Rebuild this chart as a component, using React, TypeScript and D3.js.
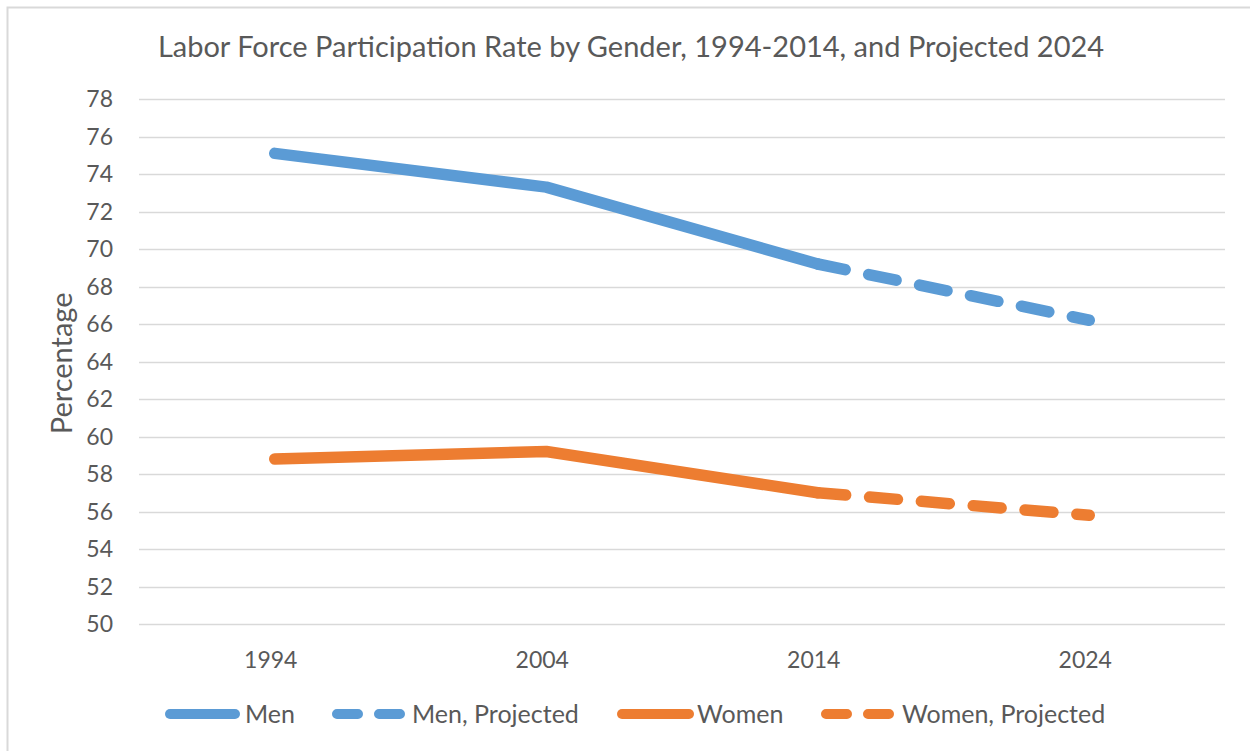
import React, { useRef, useEffect } from "react";
import * as d3 from "d3";

const years = ["1994", "2004", "2014", "2024"];
const men = [75.1, 73.3, 69.2, null];
const menProjected = [null, null, 69.2, 66.2];
const women = [58.8, 59.2, 57.0, null];
const womenProjected = [null, null, 57.0, 55.8];
const yTicks = d3.range(50, 79, 2);

const BLUE = "#5B9BD5";
const ORANGE = "#ED7D31";
const FONT = "Lato, 'Open Sans', sans-serif";

function App() {
    const svgRef = useRef<SVGSVGElement>(null);

    useEffect(() => {
        const width = 1250, height = 751;
        const margin = { top: 99, right: 25, bottom: 127, left: 139 };

        const svg = d3.select(svgRef.current);
        svg.selectAll("*").remove();

        svg.append("rect")
            .attr("x", 7.5).attr("y", 7.5)
            .attr("width", 1250).attr("height", 750)
            .attr("fill", "white")
            .attr("stroke", "#D9D9D9")
            .attr("stroke-width", 2);

        const xScale = d3.scaleBand()
            .domain(years)
            .range([margin.left, width - margin.right]);

        const yScale = d3.scaleLinear()
            .domain([50, 78])
            .range([height - margin.bottom, margin.top]);

        svg.append("text")
            .attr("x", 631).attr("y", 57)
            .attr("text-anchor", "middle")
            .style("font-family", FONT)
            .style("font-size", "29px")
            .style("fill", "#595959")
            .text("Labor Force Participation Rate by Gender, 1994-2014, and Projected 2024");

        // gridlines
        svg.append("g")
            .selectAll("line")
            .data(yTicks)
            .join("line")
            .attr("x1", margin.left)
            .attr("x2", width - margin.right)
            .attr("y1", d => Math.round(yScale(d)) + 0.5)
            .attr("y2", d => Math.round(yScale(d)) + 0.5)
            .attr("stroke", "#D9D9D9")
            .attr("stroke-width", 1.5);

        svg.append("g")
            .selectAll("text")
            .data(yTicks)
            .join("text")
            .attr("x", 113)
            .attr("y", d => yScale(d))
            .attr("dy", "0.35em")
            .attr("text-anchor", "end")
            .style("font-family", FONT)
            .style("font-size", "23px")
            .style("fill", "#595959")
            .text(d => d);

        svg.append("g")
            .selectAll("text")
            .data(years)
            .join("text")
            .attr("x", d => xScale(d)! + xScale.bandwidth() / 2 - 4)
            .attr("y", 668)
            .attr("text-anchor", "middle")
            .style("font-family", FONT)
            .style("font-size", "23px")
            .style("fill", "#595959")
            .text(d => d);

        svg.append("text")
            .attr("transform", `translate(72, ${yScale(63.9)}) rotate(-90)`)
            .attr("text-anchor", "middle")
            .style("font-family", FONT)
            .style("font-size", "29px")
            .style("fill", "#595959")
            .text("Percentage");

        const line = d3.line<number | null>()
            .defined(d => d !== null)
            .x((d, i) => xScale(years[i])! + xScale.bandwidth() / 2)
            .y(d => yScale(d as number));

        const series = [
            { values: men, color: BLUE, dash: null },
            { values: women, color: ORANGE, dash: null },
            { values: menProjected, color: BLUE, dash: "28,24" },
            { values: womenProjected, color: ORANGE, dash: "28,24" },
        ];

        svg.append("g")
            .selectAll("path")
            .data(series)
            .join("path")
            .attr("d", d => line(d.values))
            .attr("fill", "none")
            .attr("stroke", d => d.color)
            .attr("stroke-width", 11.5)
            .attr("stroke-linecap", "round")
            .attr("stroke-linejoin", "round")
            .attr("stroke-dasharray", d => d.dash);

        const legend = [
            { label: "Men", color: BLUE, x1: 170, x2: 235, dash: null, tx: 245 },
            { label: "Men, Projected", color: BLUE, x1: 337, x2: 401, dash: "21,21", tx: 412 },
            { label: "Women", color: ORANGE, x1: 622, x2: 689, dash: null, tx: 697 },
            { label: "Women, Projected", color: ORANGE, x1: 826, x2: 889, dash: "21,21", tx: 902 },
        ];

        const lg = svg.append("g")
            .selectAll("g")
            .data(legend)
            .join("g")
            .attr("transform", "translate(0, 714)");

        lg.append("line")
            .attr("x1", d => d.x1)
            .attr("x2", d => d.x2)
            .attr("stroke", d => d.color)
            .attr("stroke-width", 10)
            .attr("stroke-linecap", "round")
            .attr("stroke-dasharray", d => d.dash);

        lg.append("text")
            .attr("x", d => d.tx)
            .attr("dy", "0.35em")
            .style("font-family", FONT)
            .style("font-size", "25px")
            .style("fill", "#595959")
            .text(d => d.label);

    }, []);

    return (
        <div style={{ position: "absolute", left: 0, top: 0 }}>
            <svg ref={svgRef} width={1250} height={751} style={{ display: "block" }}></svg>
        </div>
    );
}

export default App;
